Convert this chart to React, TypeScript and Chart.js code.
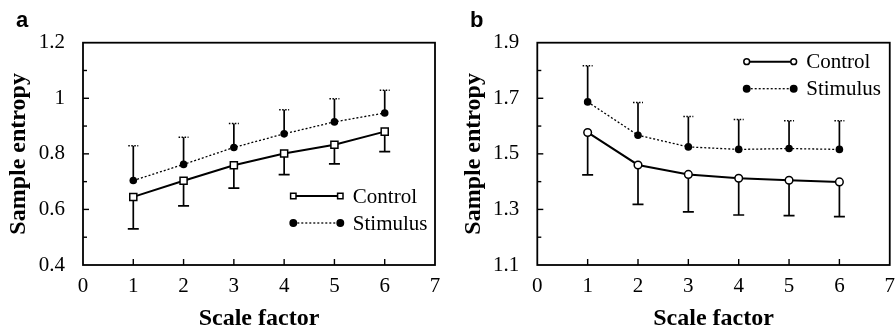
import { useEffect, useRef } from 'react';
import { Chart, registerables } from 'chart.js';

Chart.register(...registerables);

// ---------- data ----------
const scaleFactors = [1, 2, 3, 4, 5, 6];
const xTickValues = [0, 1, 2, 3, 4, 5, 6, 7];
const seriesLabels = ['Control', 'Stimulus'];

const aControl = [0.645, 0.703, 0.759, 0.801, 0.833, 0.88];
const aControlLow = [0.53, 0.613, 0.677, 0.725, 0.764, 0.808];
const aStimulus = [0.704, 0.762, 0.823, 0.872, 0.915, 0.947];
const aStimulusHigh = [0.829, 0.86, 0.909, 0.959, 0.998, 1.029];
const aYTicks = [0.4, 0.6, 0.8, 1.0, 1.2];

const bControl = [1.577, 1.46, 1.426, 1.412, 1.405, 1.399];
const bControlLow = [1.424, 1.318, 1.291, 1.28, 1.278, 1.274];
const bStimulus = [1.687, 1.567, 1.525, 1.516, 1.519, 1.516];
const bStimulusHigh = [1.817, 1.685, 1.634, 1.624, 1.619, 1.619];
const bYTicks = [1.1, 1.3, 1.5, 1.7, 1.9];

const minorStep = 0.1;

interface PanelSpec {
  letter: string;
  control: number[];
  controlLow: number[];
  stimulus: number[];
  stimulusHigh: number[];
  yTicks: number[];
  controlPoint: string;
  controlRadius: number;
  padLeft: number;
  yWidth: number;
  padRight: number;
  legendX: number;
  legendY: number;
  letterX: number;
}

const SERIF = '"Liberation Serif", "Times New Roman", serif';
const SANS = '"Liberation Sans", Arial, sans-serif';

function drawMarker(ctx: CanvasRenderingContext2D, style: string, x: number, y: number, filled: boolean) {
  ctx.save();
  ctx.setLineDash([]);
  ctx.lineWidth = 1.5;
  ctx.strokeStyle = '#000';
  ctx.fillStyle = filled ? '#000' : '#fff';
  ctx.beginPath();
  if (style === 'rect') {
    ctx.rect(x - 2.7, y - 2.7, 5.4, 5.4);
  } else {
    ctx.arc(x, y, filled ? 3.2 : 2.9, 0, Math.PI * 2);
  }
  ctx.fill();
  ctx.stroke();
  ctx.restore();
}

const decorPlugin = {
  id: 'panelDecor',
  beforeDatasetsDraw(chart: any, _args: any, opts: any) {
    const spec: PanelSpec = opts.spec;
    const ctx: CanvasRenderingContext2D = chart.ctx;
    const xs = chart.scales.x;
    const ys = chart.scales.y;
    ctx.save();
    ctx.strokeStyle = '#000';
    // control: downward error bars
    scaleFactors.forEach((sf, i) => {
      const x = xs.getPixelForValue(sf);
      const y0 = ys.getPixelForValue(spec.control[i]);
      const y1 = ys.getPixelForValue(spec.controlLow[i]);
      ctx.setLineDash([]);
      ctx.lineWidth = 1.7;
      ctx.beginPath();
      ctx.moveTo(x, y0);
      ctx.lineTo(x, y1);
      ctx.moveTo(x - 5.5, y1);
      ctx.lineTo(x + 5.5, y1);
      ctx.stroke();
    });
    // stimulus: upward error bars with dotted cap
    scaleFactors.forEach((sf, i) => {
      const x = xs.getPixelForValue(sf);
      const y0 = ys.getPixelForValue(spec.stimulus[i]);
      const y1 = ys.getPixelForValue(spec.stimulusHigh[i]);
      ctx.setLineDash([]);
      ctx.lineWidth = 1.7;
      ctx.beginPath();
      ctx.moveTo(x, y0);
      ctx.lineTo(x, y1);
      ctx.stroke();
      ctx.setLineDash([1.5, 1.5]);
      ctx.lineWidth = 1.5;
      ctx.beginPath();
      ctx.moveTo(x - 5, y1);
      ctx.lineTo(x + 5, y1);
      ctx.stroke();
    });
    ctx.restore();
  },
  afterDraw(chart: any, _args: any, opts: any) {
    const spec: PanelSpec = opts.spec;
    const ctx: CanvasRenderingContext2D = chart.ctx;
    const { left, right, top, bottom } = chart.chartArea;
    const xs = chart.scales.x;
    const ys = chart.scales.y;
    ctx.save();
    ctx.strokeStyle = '#000';
    ctx.setLineDash([]);
    // box
    ctx.lineWidth = 1.8;
    ctx.strokeRect(left, top, right - left, bottom - top);
    // y ticks (inward), major + minor
    ctx.lineWidth = 1.4;
    const yMin = ys.min;
    const yMax = ys.max;
    const n = Math.round((yMax - yMin) / minorStep);
    for (let k = 1; k < n; k++) {
      const v = yMin + k * minorStep;
      const y = ys.getPixelForValue(v);
      const len = k % 2 === 0 ? 6 : 4;
      ctx.beginPath();
      ctx.moveTo(left, y);
      ctx.lineTo(left + len, y);
      ctx.stroke();
    }
    // x ticks (inward)
    scaleFactors.forEach((sf) => {
      const x = xs.getPixelForValue(sf);
      ctx.beginPath();
      ctx.moveTo(x, bottom);
      ctx.lineTo(x, bottom - 6);
      ctx.stroke();
    });
    // legend
    const rowGap = 27;
    const lineLen = 47;
    const styles = [spec.controlPoint, 'circle'];
    seriesLabels.forEach((label, i) => {
      const y = spec.legendY + i * rowGap;
      const x0 = spec.legendX;
      const x1 = x0 + lineLen;
      ctx.beginPath();
      if (i === 0) {
        ctx.setLineDash([]);
        ctx.lineWidth = 2;
      } else {
        ctx.setLineDash([2, 2]);
        ctx.lineWidth = 1.3;
      }
      ctx.moveTo(x0, y);
      ctx.lineTo(x1, y);
      ctx.stroke();
      drawMarker(ctx, styles[i], x0, y, i === 1);
      drawMarker(ctx, styles[i], x1, y, i === 1);
      ctx.fillStyle = '#000';
      ctx.font = `21px ${SERIF}`;
      ctx.textBaseline = 'middle';
      ctx.textAlign = 'left';
      ctx.fillText(label, x1 + 12.5, y + 1);
    });
    // panel letter
    ctx.fillStyle = '#000';
    ctx.font = `bold 22px ${SANS}`;
    ctx.textBaseline = 'alphabetic';
    ctx.textAlign = 'left';
    ctx.fillText(spec.letter, spec.letterX, 26.5);
    ctx.restore();
  },
};

const BOTTOM_PAD = 0;

function makeConfig(spec: PanelSpec): any {
  const yMin = spec.yTicks[0];
  const yMax = spec.yTicks[spec.yTicks.length - 1];
  return {
    type: 'line',
    data: {
      datasets: [
        {
          label: seriesLabels[0],
          data: scaleFactors.map((x, i) => ({ x, y: spec.control[i] })),
          borderColor: '#000',
          borderWidth: 2,
          pointStyle: spec.controlPoint,
          pointRadius: spec.controlRadius,
          pointBackgroundColor: '#fff',
          pointBorderColor: '#000',
          pointBorderWidth: 1.5,
          tension: 0,
          fill: false,
        },
        {
          label: seriesLabels[1],
          data: scaleFactors.map((x, i) => ({ x, y: spec.stimulus[i] })),
          borderColor: '#000',
          borderWidth: 1.3,
          borderDash: [2, 2],
          pointStyle: 'circle',
          pointRadius: 3.8,
          pointBackgroundColor: '#000',
          pointBorderColor: '#000',
          pointBorderWidth: 0,
          tension: 0,
          fill: false,
        },
      ],
    },
    options: {
      responsive: false,
      animation: false,
      events: [],
      layout: { padding: { left: spec.padLeft, right: spec.padRight, top: 42.7, bottom: BOTTOM_PAD } },
      plugins: {
        legend: { display: false },
        tooltip: { enabled: false },
        panelDecor: { spec },
      },
      scales: {
        x: {
          type: 'linear',
          min: 0,
          max: 7,
          grid: { display: false },
          border: { display: false },
          afterBuildTicks: (s: any) => {
            s.ticks = xTickValues.map((v) => ({ value: v }));
          },
          afterFit: (s: any) => {
            s.height = 333 - BOTTOM_PAD - 265;
          },
          ticks: {
            color: '#000',
            font: { family: SERIF, size: 21 },
            padding: 1,
            maxRotation: 0,
            autoSkip: false,
            callback: (v: any) => String(v),
          },
          title: {
            display: true,
            text: 'Scale factor',
            color: '#000',
            padding: 0,
            font: { family: SERIF, size: 24, weight: 'bold' },
          },
        },
        y: {
          type: 'linear',
          min: yMin,
          max: yMax,
          grid: { display: false },
          border: { display: false },
          afterBuildTicks: (s: any) => {
            s.ticks = spec.yTicks.map((v) => ({ value: v }));
          },
          afterFit: (s: any) => {
            s.width = spec.yWidth;
          },
          ticks: {
            color: '#000',
            font: { family: SERIF, size: 21 },
            padding: 10,
            autoSkip: false,
            callback: (v: any) => String(Math.round(Number(v) * 10) / 10),
          },
          title: {
            display: true,
            text: 'Sample entropy',
            color: '#000',
            padding: 0,
            font: { family: SERIF, size: 24, weight: 'bold' },
          },
        },
      },
    },
    plugins: [decorPlugin],
  };
}

const panelA: PanelSpec = {
  letter: 'a',
  control: aControl,
  controlLow: aControlLow,
  stimulus: aStimulus,
  stimulusHigh: aStimulusHigh,
  yTicks: aYTicks,
  controlPoint: 'rect',
  controlRadius: 5,
  padLeft: 4.1,
  yWidth: 78.9,
  padRight: 13,
  legendX: 293.3,
  legendY: 196,
  letterX: 16,
};

const panelB: PanelSpec = {
  letter: 'b',
  control: bControl,
  controlLow: bControlLow,
  stimulus: bStimulus,
  stimulusHigh: bStimulusHigh,
  yTicks: bYTicks,
  controlPoint: 'circle',
  controlRadius: 3.8,
  padLeft: 10.9,
  yWidth: 78.4,
  padRight: 5.3,
  legendX: 298.7,
  legendY: 61.7,
  letterX: 22,
};

function Panel({ spec, left }: { spec: PanelSpec; left: number }) {
  const ref = useRef<HTMLCanvasElement | null>(null);
  useEffect(() => {
    if (!ref.current) return;
    const chart = new Chart(ref.current, makeConfig(spec));
    return () => chart.destroy();
  }, [spec]);
  return (
    <div style={{ position: 'absolute', left, top: 0, width: 448, height: 333 }}>
      <canvas ref={ref} width={448} height={333} style={{ width: 448, height: 333, display: 'block' }} />
    </div>
  );
}

export default function App() {
  return (
    <div style={{ position: 'fixed', left: 0, top: 0, width: 896, height: 333, background: '#fff', overflow: 'hidden' }}>
      <Panel spec={panelA} left={0} />
      <Panel spec={panelB} left={448} />
    </div>
  );
}
